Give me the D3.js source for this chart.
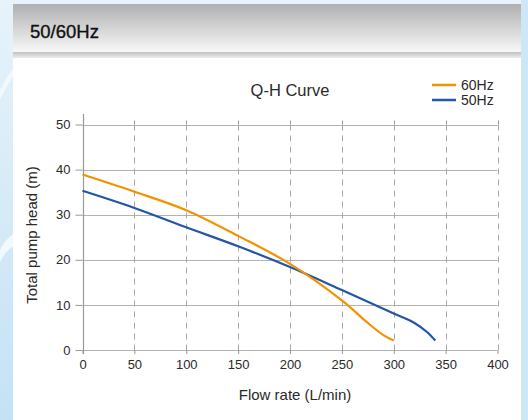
<!DOCTYPE html>
<html>
<head>
<meta charset="utf-8">
<script src="https://cdn.jsdelivr.net/npm/d3@7"></script>
<style>
  html, body { margin: 0; padding: 0; width: 528px; height: 420px; overflow: hidden; }
  svg { display: block; }
</style>
</head>
<body>
<svg id="chart" width="528" height="420"></svg>
<script>
// ---- Data ----
const seriesNames = ["60Hz", "50Hz"];
const seriesColors = ["#f39200", "#2356a6"];
const flow60 = [0, 50, 100, 150, 200, 250, 275, 290, 300];
const head60 = [38.9, 35.1, 31.0, 25.3, 19.1, 11.0, 6.0, 3.3, 2.1];
const flow50 = [0, 50, 100, 150, 200, 250, 300, 320, 332, 340];
const head50 = [35.3, 31.5, 27.2, 23.0, 18.4, 13.3, 8.1, 6.0, 4.0, 2.1];
const xTicks = [0, 50, 100, 150, 200, 250, 300, 350, 400];
const yTicks = [0, 10, 20, 30, 40, 50];
const headerText = "50/60Hz";
const chartTitle = "Q-H Curve";
const xTitle = "Flow rate (L/min)";
const yTitle = "Total pump head (m)";

const svg = d3.select("#chart");
const W = 528, H = 420;
const font = "'Liberation Sans', Arial, Helvetica, sans-serif";

// ---- Background ----
const defs = svg.append("defs");
const bg = defs.append("linearGradient").attr("id", "bg").attr("x1", 0).attr("y1", 0).attr("x2", 0).attr("y2", 1);
bg.append("stop").attr("offset", "0%").attr("stop-color", "#e6f3fb");
bg.append("stop").attr("offset", "100%").attr("stop-color", "#c4e2f4");
svg.append("rect").attr("width", W).attr("height", H).attr("fill", "url(#bg)");
svg.append("path").attr("d", "M0,250 C5,240 10,236 14,234 L14,246 C10,248 5,252 0,262 Z").attr("fill", "#ffffff").attr("opacity", 0.7);
svg.append("path").attr("d", "M0,90 C5,80 10,72 14,68 L14,76 C10,80 5,90 0,100 Z").attr("fill", "#ffffff").attr("opacity", 0.6);
svg.append("rect").attr("x", 521).attr("y", 0).attr("width", 7).attr("height", H).attr("fill", "#cde7f6");

// ---- Panel ----
const panelX = 13, panelR = 521;
svg.append("rect").attr("x", panelX).attr("y", 4).attr("width", panelR - panelX).attr("height", H - 4).attr("fill", "#ffffff");
const hg = defs.append("linearGradient").attr("id", "hg").attr("x1", 0).attr("y1", 0).attr("x2", 0).attr("y2", 1);
hg.append("stop").attr("offset", "0%").attr("stop-color", "#b0b0b0");
hg.append("stop").attr("offset", "100%").attr("stop-color", "#f8f8f8");
svg.append("rect").attr("x", panelX).attr("y", 4).attr("width", panelR - panelX).attr("height", 48).attr("fill", "url(#hg)");
const sg = defs.append("linearGradient").attr("id", "sg").attr("x1", 0).attr("y1", 0).attr("x2", 0).attr("y2", 1);
sg.append("stop").attr("offset", "0%").attr("stop-color", "#c2c2c2");
sg.append("stop").attr("offset", "100%").attr("stop-color", "#ececec");
svg.append("rect").attr("x", panelX).attr("y", 52).attr("width", panelR - panelX).attr("height", 6).attr("fill", "url(#sg)");
svg.append("text").attr("x", 30).attr("y", 38).attr("font-family", font).attr("font-size", 18.5)
  .attr("fill", "#111").attr("stroke", "#111").attr("stroke-width", 0.35).text(headerText);

// ---- Scales ----
const x = d3.scaleLinear().domain([0, 400]).range([82.5, 497.5]);
const y = d3.scaleLinear().domain([0, 50]).range([350, 124.5]);

const g = svg.append("g");

// horizontal grid (solid)
g.selectAll("line.hg").data(yTicks).join("line")
  .attr("x1", x(0)).attr("x2", x(400))
  .attr("y1", d => Math.round(y(d)) + 0.5).attr("y2", d => Math.round(y(d)) + 0.5)
  .attr("stroke", "#b3b3b3").attr("stroke-width", 1.2);

// vertical grid (dashed)
g.selectAll("line.vg").data(xTicks.filter(d => d > 0)).join("line")
  .attr("x1", d => Math.round(x(d)) + 0.5).attr("x2", d => Math.round(x(d)) + 0.5)
  .attr("y1", y(50)).attr("y2", y(0))
  .attr("stroke", "#a8a8a8").attr("stroke-width", 1).attr("stroke-dasharray", "6,5");

// top ticks
g.selectAll("line.tt").data(xTicks).join("line")
  .attr("x1", d => Math.round(x(d)) + 0.5).attr("x2", d => Math.round(x(d)) + 0.5)
  .attr("y1", y(50) - 4).attr("y2", y(50))
  .attr("stroke", "#999").attr("stroke-width", 1);

// left axis line
g.append("line").attr("x1", Math.round(x(0)) + 0.5).attr("x2", Math.round(x(0)) + 0.5)
  .attr("y1", 114).attr("y2", y(0) + 4).attr("stroke", "#999").attr("stroke-width", 1.2);

// Axes via d3
const xAxis = d3.axisBottom(x).tickValues(xTicks).tickSize(4).tickPadding(6).tickFormat(d3.format("d"));
const xa = g.append("g").attr("transform", `translate(0,${y(0)})`).call(xAxis);
xa.select(".domain").remove();
xa.selectAll(".tick line").attr("stroke", "#999");
xa.selectAll("text").attr("font-family", font).attr("font-size", 13).attr("fill", "#2a2a2a");

const yAxis = d3.axisLeft(y).tickValues(yTicks).tickSize(7).tickPadding(5).tickFormat(d3.format("d"));
const ya = g.append("g").attr("transform", `translate(${x(0)},0)`).call(yAxis);
ya.select(".domain").remove();
ya.selectAll(".tick line").attr("stroke", "#999");
ya.selectAll("text").attr("font-family", font).attr("font-size", 13).attr("fill", "#2a2a2a");

// ---- Lines ----
const line = d3.line().x(d => x(d[0])).y(d => y(d[1])).curve(d3.curveCatmullRom.alpha(0.5));
const data60 = flow60.map((f, i) => [f, head60[i]]);
const data50 = flow50.map((f, i) => [f, head50[i]]);
g.append("path").datum(data50).attr("d", line).attr("fill", "none")
  .attr("stroke", seriesColors[1]).attr("stroke-width", 2.2);
g.append("path").datum(data60).attr("d", line).attr("fill", "none")
  .attr("stroke", seriesColors[0]).attr("stroke-width", 2.2);

// ---- Titles ----
svg.append("text").attr("x", 290).attr("y", 96).attr("text-anchor", "middle")
  .attr("font-family", font).attr("font-size", 16.5).attr("fill", "#2a2a2a").text(chartTitle);
svg.append("text").attr("x", 295).attr("y", 400).attr("text-anchor", "middle")
  .attr("font-family", font).attr("font-size", 15).attr("fill", "#2a2a2a").text(xTitle);
svg.append("text").attr("transform", "translate(37,235) rotate(-90)").attr("text-anchor", "middle")
  .attr("font-family", font).attr("font-size", 15).attr("fill", "#2a2a2a").text(yTitle);

// ---- Legend ----
const legY = [85, 100];
seriesNames.forEach((n, i) => {
  svg.append("line").attr("x1", 432).attr("x2", 456).attr("y1", legY[i]).attr("y2", legY[i])
    .attr("stroke", seriesColors[i]).attr("stroke-width", 2.5);
  svg.append("text").attr("x", 461).attr("y", legY[i] + 5).attr("font-family", font)
    .attr("font-size", 14).attr("fill", "#2a2a2a").text(n);
});
</script>
</body>
</html>
